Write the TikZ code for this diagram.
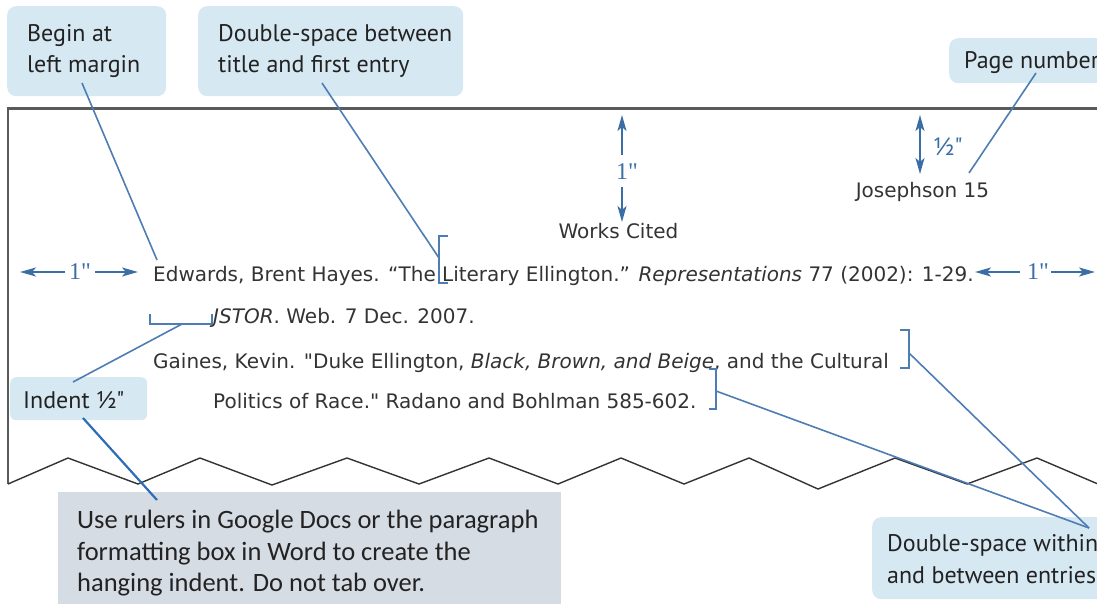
\documentclass[tikz,border=0pt]{standalone}
\usepackage{fontspec}
\setmainfont{DejaVu Sans}
\newfontfamily\callfont{PT Sans}
\newfontfamily\entfont{DejaVu Sans}
\newfontfamily\notefont{Carlito}
\newfontfamily\numfont{Liberation Serif}
\usetikzlibrary{arrows.meta}
\definecolor{callfill}{HTML}{D6E8F2}
\definecolor{notefill}{HTML}{D6DCE4}
\definecolor{linkblue}{HTML}{4D7DB3}
\definecolor{arrblue}{HTML}{3B6EA6}
\definecolor{deepblue}{HTML}{2E6DB5}
\definecolor{txtgray}{HTML}{222222}
\definecolor{enttext}{HTML}{333333}
\definecolor{pagegray}{HTML}{5A5A5A}
\begin{document}
\begin{tikzpicture}[x=1pt,y=-1pt,
  callbox/.style={fill=callfill, rounded corners=9pt, draw=none, inner sep=0pt, anchor=north west},
  notebox/.style={fill=notefill, draw=none, inner sep=0pt, anchor=north west},
  calltxt/.style={font=\callfont\fontsize{24}{28}\selectfont, text=txtgray, inner sep=0pt, anchor=base west},
  notetxt/.style={font=\notefont\fontsize{26.5}{30}\selectfont, text=txtgray, inner sep=0pt, anchor=base west},
  enttxt/.style={font=\entfont\fontsize{20}{24}\selectfont, text=enttext, inner sep=0pt, anchor=base west},
  numtxt/.style={font=\numfont\fontsize{24}{28}\selectfont, text=arrblue, inner sep=0pt},
  halftxt/.style={font=\callfont\fontsize{25}{28}\selectfont, text=arrblue, inner sep=0pt},
  arr/.style={draw=arrblue, line width=1.9pt, -{Stealth[length=16pt,width=9pt,inset=4pt]}},
  dblarr/.style={draw=arrblue, line width=1.9pt, {Stealth[length=16pt,width=9pt,inset=4pt]}-{Stealth[length=16pt,width=9pt,inset=4pt]}},
  link/.style={draw=linkblue, line width=1.6pt},
  deeplink/.style={draw=deepblue, line width=2.2pt},
  brack/.style={draw=linkblue, line width=1.8pt},
  pageline/.style={draw=pagegray}
]
\useasboundingbox (0,0) rectangle (1097,603);
\clip (0,0) rectangle (1097,603);

% page outline
\draw[pageline, line width=1.2pt] (8,108) -- (8,484);
\draw[pageline, line width=3pt] (7.4,108) -- (1100,108);
\draw[black!80, line width=1.4pt] (8,484) -- (68,458) -- (138,484) -- (200,458) -- (272,485) -- (347,458) -- (419,484) -- (489,458) -- (558,484) -- (621,458) -- (684,484) -- (749,458) -- (818,489) -- (895,458) -- (967,484) -- (1037,458) -- (1105,487);

% callout boxes
\node[callbox, minimum width=159pt, minimum height=90pt] (beginbox) at (7,6) {};
\node[callbox, minimum width=265pt, minimum height=90pt] (dblbox) at (198,6) {};
\node[callbox, minimum width=200pt, minimum height=45pt] (pagebox) at (949,38) {};
\node[callbox, minimum width=137pt, minimum height=43pt, rounded corners=6pt] (indentbox) at (10,377) {};
\node[callbox, minimum width=260pt, minimum height=82pt] (entbox) at (872,517) {};
\node[notebox, minimum width=503pt, minimum height=115pt] (notebox) at (58,492) {};

% callout texts
\node[calltxt] (begina) at (27,41) {Begin at};
\node[calltxt] (beginb) at (27,72) {left margin};
\node[calltxt] (dbla) at (218,41) {Double-space between};
\node[calltxt] (dblb) at (218,72) {title and first entry};
\node[calltxt] (pagetxt) at (964,68) {Page number};
\node[calltxt] (indenttxt) at (23,408) {Indent ½"};
\node[calltxt] (enta) at (887,551) {Double-space within};
\node[calltxt] (entb) at (887,583) {and between entries};

% note text
\node[notetxt] (notea) at (77,528) {Use rulers in Google Docs or the paragraph};
\node[notetxt] (noteb) at (77,560) {formatting box in Word to create the};
\node[notetxt] (notec) at (77,591) {hanging indent. Do not tab over.};

% page content
\node[enttxt, anchor=base] (josephson) at (922.5,197) {Josephson 15};
\node[enttxt, anchor=base] (works) at (618.5,238) {Works Cited};
\node[enttxt] (edwards) at (153,281) {Edwards, Brent Hayes. “The Literary Ellington.” \textit{Representations} 77 (2002): 1-29.};
\node[enttxt] (jstor) at (213,323) {\textit{JSTOR}. Web. 7 Dec. 2007.};
\node[enttxt] (gaines) at (153,368) {Gaines, Kevin. "Duke Ellington, \textit{Black, Brown, and Beige}, and the Cultural};
\node[enttxt] (politics) at (213,408) {Politics of Race." Radano and Bohlman 585-602.};

% measurement arrows
\node[numtxt] (oneleft) at (80,272) {1"};
\coordinate (lefttipa) at (20,272);
\coordinate (lefttipb) at (138,272);
\coordinate (leftgapa) at (65,272);
\coordinate (leftgapb) at (95,272);
\draw[arr] (leftgapa) -- (lefttipa);
\draw[arr] (leftgapb) -- (lefttipb);

\node[numtxt] (oneright) at (1038,272) {1"};
\coordinate (righttipa) at (975,272);
\coordinate (righttipb) at (1095,272);
\coordinate (rightgapa) at (1020,272);
\coordinate (rightgapb) at (1051,272);
\draw[arr] (rightgapa) -- (righttipa);
\draw[arr] (rightgapb) -- (righttipb);

\node[numtxt] (onetop) at (627,172) {1"};
\coordinate (toptipa) at (622,115);
\coordinate (toptipb) at (622,222);
\coordinate (topgapa) at (622,155);
\coordinate (topgapb) at (622,187);
\draw[arr] (topgapa) -- (toptipa);
\draw[arr] (topgapb) -- (toptipb);

\node[halftxt] (half) at (948,147) {½"};
\coordinate (halftipa) at (920,115);
\coordinate (halftipb) at (920,174);
\draw[dblarr] (halftipa) -- (halftipb);

% brackets
\coordinate (brA) at (439,258);
\draw[brack] (448,236) -- (439,236) -- (439,283) -- (448,283);
\coordinate (brB) at (182,324);
\draw[brack] (150,314) -- (150,324) -- (212,324) -- (212,314);
\coordinate (brC) at (909,353);
\draw[brack] (900,330) -- (909,330) -- (909,368) -- (900,368);
\coordinate (brD) at (716,391);
\draw[brack] (709,369) -- (716,369) -- (716,409) -- (709,409);

% connectors
\coordinate (beginpt) at (82,83);
\coordinate (edwpt) at (157,260);
\draw[link] (beginpt) -- (edwpt);
\coordinate (dblpt) at (322,83);
\draw[link] (dblpt) -- (brA);
\coordinate (pagept) at (1036,73);
\coordinate (joept) at (969,173);
\draw[link] (pagept) -- (joept);
\coordinate (indentpt) at (73,382);
\draw[link] (brB) -- (indentpt);
\coordinate (entpt) at (1089,528);
\draw[link] (brC) -- (entpt);
\draw[link] (brD) -- (entpt);
\coordinate (indentlow) at (83,418);
\coordinate (notept) at (157,500);
\draw[deeplink] (indentlow) -- (notept);
\end{tikzpicture}
\end{document}
